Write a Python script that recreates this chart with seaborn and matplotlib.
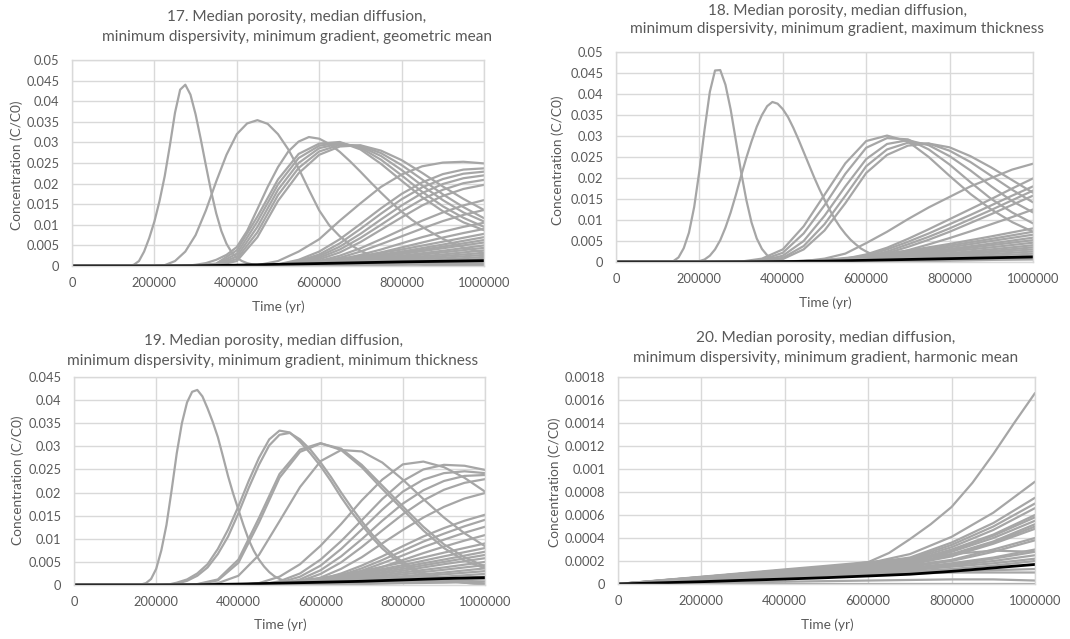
import pandas as pd
import matplotlib.pyplot as plt
import seaborn as sns

# time grids (yr)
t_narrow = list(range(125000, 700001, 12500))  # 47 points, for the sharp early peaks
t_fine = list(range(0, 1000001, 25000))        # 41 points
t_mid = list(range(0, 1000001, 50000))         # 21 points
t_coarse = list(range(0, 1000001, 100000))     # 11 points

x_ticks = [0, 200000, 400000, 600000, 800000, 1000000]
x_tick_labels = ["0", "200000", "400000", "600000", "800000", "1000000"]

y_ticks_05 = [0, 0.005, 0.01, 0.015, 0.02, 0.025, 0.03, 0.035, 0.04, 0.045, 0.05]
y_labels_05 = ["0", "0.005", "0.01", "0.015", "0.02", "0.025", "0.03", "0.035", "0.04", "0.045", "0.05"]
y_ticks_045 = [0, 0.005, 0.01, 0.015, 0.02, 0.025, 0.03, 0.035, 0.04, 0.045]
y_labels_045 = ["0", "0.005", "0.01", "0.015", "0.02", "0.025", "0.03", "0.035", "0.04", "0.045"]
y_ticks_0018 = [0, 0.0002, 0.0004, 0.0006, 0.0008, 0.001, 0.0012, 0.0014, 0.0016, 0.0018]
y_labels_0018 = ["0", "0.0002", "0.0004", "0.0006", "0.0008", "0.001", "0.0012", "0.0014", "0.0016", "0.0018"]

titles = [
    ("17. Median porosity, median diffusion,",
     "minimum dispersivity, minimum gradient, geometric mean"),
    ("18. Median porosity, median diffusion,",
     "minimum dispersivity, minimum gradient, maximum thickness"),
    ("19. Median porosity, median diffusion,",
     "minimum dispersivity, minimum gradient, minimum thickness"),
    ("20. Median porosity, median diffusion,",
     "minimum dispersivity, minimum gradient, harmonic mean"),
]

# ---------------- panel 17 ----------------
p17_narrow = [
    [0, 0, 0.0003, 0.0012, 0.0035, 0.0068, 0.0108, 0.0158, 0.0218, 0.0292, 0.0372,
     0.0428, 0.044, 0.0416, 0.0368, 0.0308, 0.0244, 0.0182, 0.0128, 0.0085, 0.0054,
     0.0033, 0.002, 0.0012, 0.0007, 0.0004, 0.0002, 0.0001, 0, 0, 0, 0, 0, 0, 0, 0,
     0, 0, 0, 0, 0, 0, 0, 0, 0, 0, 0],
]
p17_fast = [
    [0, 0, 0, 0, 0, 0, 0, 0, 0, 0.0002, 0.0012, 0.0035, 0.0075, 0.0135, 0.0205, 0.027,
     0.032, 0.0346, 0.0354, 0.0345, 0.032, 0.0283, 0.0237, 0.0185, 0.0135, 0.0098,
     0.0072, 0.0052, 0.0037, 0.0026, 0.0018, 0.0012, 0.0008, 0.0005, 0.0003, 0.0002,
     0.0001, 0.0001, 0.0001, 0, 0],
    [0, 0, 0, 0, 0, 0, 0, 0, 0, 0, 0, 0, 0.0003, 0.0007, 0.0015, 0.0027, 0.0046,
     0.0085, 0.0138, 0.0192, 0.024, 0.0278, 0.0302, 0.0313, 0.0309, 0.0296, 0.0277,
     0.0254, 0.0229, 0.0203, 0.0178, 0.0154, 0.0132, 0.0112, 0.0095, 0.008, 0.0066,
     0.0055, 0.0045, 0.0038, 0.0032],
]
p17_mid = [
    [0, 0, 0, 0, 0, 0, 0.0001, 0.0006, 0.0038, 0.012, 0.021, 0.0272, 0.0297, 0.0301,
     0.0283, 0.0248, 0.0207, 0.0167, 0.0133, 0.0106, 0.0087],
    [0, 0, 0, 0, 0, 0, 0, 0.0004, 0.003, 0.0108, 0.0198, 0.0262, 0.0292, 0.0299,
     0.0287, 0.0258, 0.022, 0.018, 0.0145, 0.0117, 0.0095],
    [0, 0, 0, 0, 0, 0, 0, 0.0003, 0.0023, 0.0095, 0.0185, 0.025, 0.0286, 0.0297,
     0.029, 0.0267, 0.0233, 0.0195, 0.016, 0.013, 0.0108],
    [0, 0, 0, 0, 0, 0, 0, 0.0002, 0.0017, 0.0082, 0.0172, 0.0238, 0.0278, 0.0294,
     0.0292, 0.0274, 0.0245, 0.021, 0.0174, 0.0143, 0.0116],
    [0, 0, 0, 0, 0, 0, 0, 0.0001, 0.0012, 0.007, 0.0158, 0.0225, 0.027, 0.029,
     0.0293, 0.028, 0.0257, 0.0226, 0.0193, 0.0163, 0.0136],
    [0, 0, 0, 0, 0, 0, 0, 0, 0, 0.0002, 0.0012, 0.0035, 0.0065, 0.011, 0.0152,
     0.0192, 0.0222, 0.0242, 0.0251, 0.0253, 0.0249],
    [0, 0, 0, 0, 0, 0, 0, 0, 0, 0, 0.0004, 0.0015, 0.0035, 0.0065, 0.0102, 0.014,
     0.0175, 0.0203, 0.0223, 0.0234, 0.0237],
    [0, 0, 0, 0, 0, 0, 0, 0, 0, 0, 0.0003, 0.0012, 0.0028, 0.0055, 0.009, 0.0127,
     0.0162, 0.0191, 0.0211, 0.0224, 0.0229],
    [0, 0, 0, 0, 0, 0, 0, 0, 0, 0, 0.0002, 0.001, 0.0024, 0.0047, 0.0078, 0.0113,
     0.0147, 0.0177, 0.0199, 0.0213, 0.022],
    [0, 0, 0, 0, 0, 0, 0, 0, 0, 0, 0.0001, 0.0008, 0.002, 0.004, 0.0068, 0.01,
     0.0133, 0.0162, 0.0185, 0.0201, 0.0209],
    [0, 0, 0, 0, 0, 0, 0, 0, 0, 0, 0.0001, 0.0006, 0.0016, 0.0033, 0.0058, 0.0088,
     0.0118, 0.0147, 0.017, 0.0187, 0.0197],
    [0, 0, 0, 0, 0, 0, 0, 0, 0, 0, 0, 0.0004, 0.0012, 0.0025, 0.0043, 0.0065,
     0.0088, 0.011, 0.013, 0.0147, 0.016],
    [0, 0, 0, 0, 0, 0, 0, 0, 0, 0, 0, 0.0003, 0.001, 0.002, 0.0035, 0.0053, 0.0072,
     0.0091, 0.0109, 0.0124, 0.0136],
    [0, 0, 0, 0, 0, 0, 0, 0, 0, 0, 0, 0.0002, 0.0008, 0.0016, 0.0027, 0.004, 0.0055,
     0.007, 0.0083, 0.0095, 0.0105],
    [0, 0, 0, 0, 0, 0, 0, 0, 0, 0, 0, 0.0002, 0.0007, 0.0013, 0.0022, 0.0033, 0.0045,
     0.0057, 0.0069, 0.008, 0.009],
]
p17_slow = [
    [0, 0, 0, 0, 0.0001, 0.0004, 0.0011, 0.0024, 0.004, 0.0059, 0.0078],
    [0, 0, 0, 0, 0.0001, 0.0003, 0.001, 0.0021, 0.0035, 0.0052, 0.007],
    [0, 0, 0, 0, 0.0001, 0.0003, 0.0009, 0.0019, 0.0032, 0.0047, 0.0063],
    [0, 0, 0, 0, 0.0001, 0.0003, 0.0008, 0.0017, 0.0029, 0.0043, 0.0057],
    [0, 0, 0, 0, 0.0001, 0.0002, 0.0007, 0.0015, 0.0025, 0.0037, 0.005],
    [0, 0, 0, 0, 0, 0.0002, 0.0006, 0.0013, 0.0022, 0.0033, 0.0044],
    [0, 0, 0, 0, 0, 0.0002, 0.0005, 0.0011, 0.0019, 0.0028, 0.0038],
    [0, 0, 0, 0, 0, 0.0002, 0.0005, 0.001, 0.0016, 0.0024, 0.0032],
    [0, 0, 0, 0, 0, 0.0001, 0.0004, 0.0008, 0.0014, 0.002, 0.0027],
    [0, 0, 0, 0, 0, 0.0001, 0.0003, 0.0007, 0.0011, 0.0016, 0.0022],
    [0, 0, 0, 0, 0, 0.0001, 0.0003, 0.0005, 0.0009, 0.0013, 0.0017],
    [0, 0, 0, 0, 0, 0.0001, 0.0002, 0.0004, 0.0006, 0.0009, 0.0012],
    [0, 0, 0, 0, 0, 0, 0.0001, 0.0002, 0.0004, 0.0006, 0.0008],
    [0, 0, 0, 0, 0, 0, 0.0001, 0.0002, 0.0003, 0.0004, 0.0005],
]
p17_mean = [0, 0, 0, 0.00005, 0.0002, 0.0004, 0.0006, 0.0008, 0.001, 0.00115, 0.0013]

# ---------------- panel 18 ----------------
p18_narrow = [
    [0, 0.0002, 0.0011, 0.0033, 0.007, 0.0131, 0.0217, 0.0316, 0.0405, 0.0456, 0.0457,
     0.0422, 0.0363, 0.0289, 0.0214, 0.0148, 0.0094, 0.0056, 0.0031, 0.0016, 0.0008,
     0.0004, 0.0002, 0.0001, 0, 0, 0, 0, 0, 0, 0, 0, 0, 0, 0, 0, 0, 0, 0, 0, 0, 0, 0,
     0, 0, 0, 0],
    [0, 0, 0, 0, 0, 0, 0.0002, 0.0006, 0.0015, 0.003, 0.0052, 0.0082, 0.0118, 0.016,
     0.0205, 0.0248, 0.0287, 0.0322, 0.035, 0.0371, 0.0381, 0.0377, 0.0364, 0.0345,
     0.032, 0.0292, 0.0262, 0.0232, 0.0202, 0.0174, 0.0148, 0.0124, 0.0102, 0.0083,
     0.0067, 0.0053, 0.0042, 0.0032, 0.0025, 0.0019, 0.0014, 0.001, 0.0007, 0.0005,
     0.0003, 0.0002, 0.0001],
]
p18_mid = [
    [0, 0, 0, 0, 0, 0, 0.0001, 0.0008, 0.003, 0.0085, 0.016, 0.0235, 0.0288, 0.0301,
     0.0287, 0.025, 0.0205, 0.0162, 0.0125, 0.0095, 0.0072],
    [0, 0, 0, 0, 0, 0, 0, 0.0005, 0.0022, 0.0068, 0.0135, 0.021, 0.0272, 0.0295,
     0.0292, 0.0268, 0.0232, 0.019, 0.015, 0.0118, 0.0092],
    [0, 0, 0, 0, 0, 0, 0, 0.0003, 0.0015, 0.005, 0.011, 0.018, 0.0245, 0.0281, 0.029,
     0.0278, 0.0252, 0.0218, 0.018, 0.0145, 0.0118],
    [0, 0, 0, 0, 0, 0, 0, 0.0002, 0.001, 0.0038, 0.009, 0.0158, 0.0228, 0.0268,
     0.0284, 0.0282, 0.0265, 0.0238, 0.0205, 0.0172, 0.0142],
    [0, 0, 0, 0, 0, 0, 0, 0.0001, 0.0007, 0.003, 0.0075, 0.014, 0.0212, 0.0255,
     0.0277, 0.0282, 0.0273, 0.0252, 0.0225, 0.0195, 0.0165],
    [0, 0, 0, 0, 0, 0, 0, 0, 0, 0.0002, 0.0008, 0.002, 0.0045, 0.0072, 0.0102, 0.013,
     0.0155, 0.018, 0.020, 0.022, 0.0234],
    [0, 0, 0, 0, 0, 0, 0, 0, 0, 0, 0, 0.0008, 0.0018, 0.0034, 0.0055, 0.0078, 0.0102,
     0.0126, 0.015, 0.0175, 0.0199],
    [0, 0, 0, 0, 0, 0, 0, 0, 0, 0, 0, 0.0006, 0.0015, 0.003, 0.0048, 0.0068, 0.009,
     0.0112, 0.0135, 0.0158, 0.018],
    [0, 0, 0, 0, 0, 0, 0, 0, 0, 0, 0, 0.0004, 0.0012, 0.0025, 0.0042, 0.006, 0.008,
     0.0102, 0.0124, 0.0147, 0.017],
    [0, 0, 0, 0, 0, 0, 0, 0, 0, 0, 0, 0.0003, 0.001, 0.0021, 0.0036, 0.0053, 0.0072,
     0.0093, 0.0114, 0.0136, 0.0158],
    [0, 0, 0, 0, 0, 0, 0, 0, 0, 0, 0, 0.0002, 0.0008, 0.0017, 0.0028, 0.0042, 0.0057,
     0.0073, 0.009, 0.0107, 0.0125],
]
p18_slow = [
    [0, 0, 0, 0, 0.0001, 0.0005, 0.0014, 0.0027, 0.0043, 0.0061, 0.008],
    [0, 0, 0, 0, 0.0001, 0.0004, 0.0012, 0.0024, 0.0039, 0.0055, 0.0072],
    [0, 0, 0, 0, 0.0001, 0.0004, 0.0011, 0.0022, 0.0035, 0.005, 0.0065],
    [0, 0, 0, 0, 0.0001, 0.0003, 0.001, 0.0019, 0.0031, 0.0044, 0.0058],
    [0, 0, 0, 0, 0.0001, 0.0003, 0.0009, 0.0017, 0.0028, 0.004, 0.0052],
    [0, 0, 0, 0, 0, 0.0003, 0.0008, 0.0015, 0.0025, 0.0035, 0.0046],
    [0, 0, 0, 0, 0, 0.0002, 0.0007, 0.0013, 0.0021, 0.003, 0.004],
    [0, 0, 0, 0, 0, 0.0002, 0.0006, 0.0011, 0.0018, 0.0026, 0.0035],
    [0, 0, 0, 0, 0, 0.0002, 0.0005, 0.001, 0.0016, 0.0023, 0.003],
    [0, 0, 0, 0, 0, 0.0001, 0.0004, 0.0008, 0.0013, 0.0019, 0.0025],
    [0, 0, 0, 0, 0, 0.0001, 0.0003, 0.0006, 0.001, 0.0015, 0.002],
    [0, 0, 0, 0, 0, 0.0001, 0.0002, 0.0005, 0.0008, 0.0011, 0.0015],
    [0, 0, 0, 0, 0, 0, 0.0002, 0.0003, 0.0005, 0.0008, 0.001],
    [0, 0, 0, 0, 0, 0, 0.0001, 0.0002, 0.0003, 0.0005, 0.0006],
]
p18_mean = [0, 0, 0, 0.00003, 0.0001, 0.0002, 0.0004, 0.0006, 0.0008, 0.001, 0.0012]

# ---------------- panel 19 ----------------
p19_narrow = [
    [0, 0, 0, 0.0001, 0.0004, 0.0013, 0.0035, 0.0075, 0.013, 0.0205, 0.0285, 0.035,
     0.0395, 0.0418, 0.0422, 0.0408, 0.0382, 0.0353, 0.032, 0.0278, 0.0235, 0.0197,
     0.0163, 0.0129, 0.0098, 0.0074, 0.0055, 0.004, 0.0028, 0.0019, 0.0013, 0.0009,
     0.0006, 0.0004, 0.0003, 0.0002, 0.0001, 0, 0, 0, 0, 0, 0, 0, 0, 0, 0],
]
p19_fast = [
    [0, 0, 0, 0, 0, 0, 0, 0, 0, 0, 0.0005, 0.0012, 0.0025, 0.0045, 0.0078, 0.012, 0.017,
     0.0225, 0.0275, 0.0315, 0.0334, 0.033, 0.031, 0.0285, 0.0257, 0.0225, 0.019,
     0.0158, 0.013, 0.0103, 0.0079, 0.006, 0.0045, 0.0032, 0.0022, 0.0015, 0.001,
     0.0007, 0.0005, 0.0003, 0.0002],
    [0, 0, 0, 0, 0, 0, 0, 0, 0, 0, 0.0003, 0.0009, 0.002, 0.0038, 0.0067, 0.0105,
     0.0155, 0.021, 0.026, 0.0302, 0.0325, 0.0329, 0.0315, 0.0293, 0.0265, 0.0234,
     0.02, 0.0168, 0.0138, 0.011, 0.0086, 0.0066, 0.005, 0.0036, 0.0025, 0.0017,
     0.0012, 0.0008, 0.0005, 0.0003, 0.0002],
]
p19_mid = [
    [0, 0, 0, 0, 0, 0, 0.0002, 0.0012, 0.0055, 0.0145, 0.024, 0.0293, 0.0307, 0.0292,
     0.0255, 0.0208, 0.0163, 0.0118, 0.008, 0.0053, 0.0036],
    [0, 0, 0, 0, 0, 0, 0.0001, 0.001, 0.0048, 0.0135, 0.0232, 0.0288, 0.0306, 0.0295,
     0.026, 0.0215, 0.017, 0.0126, 0.0088, 0.006, 0.004],
    [0, 0, 0, 0, 0, 0, 0, 0.0004, 0.002, 0.0065, 0.0138, 0.0212, 0.0268, 0.0292,
     0.0289, 0.0265, 0.0228, 0.0186, 0.0146, 0.0112, 0.0084],
    [0, 0, 0, 0, 0, 0, 0, 0, 0, 0.0004, 0.0018, 0.0045, 0.0085, 0.0132, 0.0183,
     0.0228, 0.0261, 0.0267, 0.0255, 0.0232, 0.0202],
    [0, 0, 0, 0, 0, 0, 0, 0, 0, 0, 0.0008, 0.0025, 0.0055, 0.0095, 0.014, 0.0186,
     0.0225, 0.025, 0.026, 0.0258, 0.0249],
    [0, 0, 0, 0, 0, 0, 0, 0, 0, 0, 0.0005, 0.0018, 0.0042, 0.0078, 0.012, 0.0163,
     0.0202, 0.0228, 0.0242, 0.0246, 0.0242],
    [0, 0, 0, 0, 0, 0, 0, 0, 0, 0, 0, 0.0012, 0.0032, 0.0062, 0.0099, 0.0139, 0.0176,
     0.0205, 0.0225, 0.0236, 0.0238],
    [0, 0, 0, 0, 0, 0, 0, 0, 0, 0, 0, 0.0008, 0.0024, 0.0049, 0.0082, 0.0118, 0.0153,
     0.0183, 0.0206, 0.0221, 0.0229],
    [0, 0, 0, 0, 0, 0, 0, 0, 0, 0, 0, 0.0005, 0.0016, 0.0035, 0.006, 0.009, 0.0119,
     0.0146, 0.0169, 0.0187, 0.0199],
    [0, 0, 0, 0, 0, 0, 0, 0, 0, 0, 0, 0.0004, 0.0012, 0.0025, 0.0042, 0.0062, 0.0084,
     0.0105, 0.0123, 0.0139, 0.0152],
    [0, 0, 0, 0, 0, 0, 0, 0, 0, 0, 0, 0.0003, 0.001, 0.0021, 0.0036, 0.0054, 0.0074,
     0.0094, 0.0111, 0.0127, 0.0141],
    [0, 0, 0, 0, 0, 0, 0, 0, 0, 0, 0, 0.0003, 0.0009, 0.0018, 0.0031, 0.0047, 0.0064,
     0.0082, 0.0098, 0.0113, 0.0126],
    [0, 0, 0, 0, 0, 0, 0, 0, 0, 0, 0, 0.0002, 0.0007, 0.0015, 0.0026, 0.0039, 0.0054,
     0.0069, 0.0083, 0.0096, 0.0108],
]
p19_slow = [
    [0, 0, 0, 0, 0.0001, 0.0005, 0.0015, 0.003, 0.0049, 0.007, 0.009],
    [0, 0, 0, 0, 0.0001, 0.0004, 0.0013, 0.0026, 0.0043, 0.0062, 0.008],
    [0, 0, 0, 0, 0.0001, 0.0004, 0.0012, 0.0024, 0.0039, 0.0055, 0.0072],
    [0, 0, 0, 0, 0.0001, 0.0003, 0.001, 0.0021, 0.0035, 0.005, 0.0065],
    [0, 0, 0, 0, 0.0001, 0.0003, 0.0009, 0.0019, 0.0031, 0.0045, 0.0058],
    [0, 0, 0, 0, 0, 0.0003, 0.0008, 0.0016, 0.0027, 0.0038, 0.005],
    [0, 0, 0, 0, 0, 0.0002, 0.0007, 0.0014, 0.0023, 0.0033, 0.0043],
    [0, 0, 0, 0, 0, 0.0002, 0.0006, 0.0012, 0.0019, 0.0027, 0.0036],
    [0, 0, 0, 0, 0, 0.0002, 0.0005, 0.001, 0.0016, 0.0023, 0.003],
    [0, 0, 0, 0, 0, 0.0001, 0.0004, 0.0008, 0.0013, 0.0018, 0.0024],
    [0, 0, 0, 0, 0, 0.0001, 0.0003, 0.0006, 0.001, 0.0014, 0.0018],
    [0, 0, 0, 0, 0, 0.0001, 0.0002, 0.0004, 0.0007, 0.0009, 0.0012],
    [0, 0, 0, 0, 0, 0, 0.0001, 0.0002, 0.0004, 0.0005, 0.0007],
]
p19_mean = [0, 0, 0, 0.00005, 0.0002, 0.0004, 0.0006, 0.0008, 0.0011, 0.0014, 0.0016]

# ---------------- panel 20 ----------------
p20_mid = [
    [0, 0.000015, 0.00003, 0.000045, 0.00006, 0.000075, 0.00009, 0.000105, 0.00012,
     0.000135, 0.00015, 0.000165, 0.00019, 0.00027, 0.00039, 0.00052, 0.00067,
     0.00088, 0.00113, 0.0014, 0.00166],
]
p20_slow = [
    [0, 0.00003, 0.00006, 0.00009, 0.00012, 0.00015, 0.00018, 0.00026, 0.00041, 0.00062, 0.00089],
    [0, 0.00003, 0.00006, 0.00009, 0.00012, 0.00015, 0.00018, 0.00023, 0.00036, 0.00053, 0.00075],
    [0, 0.000028, 0.000055, 0.000083, 0.00011, 0.00014, 0.000165, 0.00022, 0.00034, 0.0005, 0.0007],
    [0, 0.000028, 0.000055, 0.000083, 0.00011, 0.00014, 0.000165, 0.00021, 0.00032, 0.00047, 0.00066],
    [0, 0.000027, 0.000053, 0.00008, 0.000107, 0.000133, 0.00016, 0.0002, 0.0003, 0.00043, 0.0006],
    [0, 0.000025, 0.00005, 0.000075, 0.0001, 0.000125, 0.00015, 0.00019, 0.00029, 0.00042, 0.00058],
    [0, 0.000025, 0.00005, 0.000075, 0.0001, 0.000125, 0.00015, 0.00019, 0.00028, 0.0004, 0.00055],
    [0, 0.000023, 0.000047, 0.00007, 0.000093, 0.000117, 0.00014, 0.00018, 0.00026, 0.00037, 0.00052],
    [0, 0.000023, 0.000047, 0.00007, 0.000093, 0.000117, 0.00014, 0.00017, 0.00025, 0.00036, 0.0005],
    [0, 0.000022, 0.000043, 0.000065, 0.000087, 0.000108, 0.00013, 0.00017, 0.00024, 0.00035, 0.00048],
    [0, 0.000022, 0.000043, 0.000065, 0.000087, 0.000108, 0.00013, 0.00016, 0.00021, 0.0003, 0.0004],
    [0, 0.00002, 0.00004, 0.00006, 0.00008, 0.0001, 0.00012, 0.00015, 0.0002, 0.00028, 0.00038],
    [0, 0.00002, 0.00004, 0.00006, 0.00008, 0.0001, 0.00012, 0.00014, 0.00018, 0.00023, 0.0003],
    [0, 0.000018, 0.000037, 0.000055, 0.000073, 0.000092, 0.00011, 0.00013, 0.00017, 0.00022, 0.00028],
    [0, 0.000018, 0.000037, 0.000055, 0.000073, 0.000092, 0.00011, 0.00013, 0.00016, 0.0002, 0.00025],
    [0, 0.000017, 0.000033, 0.00005, 0.000067, 0.000083, 0.0001, 0.00012, 0.00015, 0.00018, 0.00022],
    [0, 0.000015, 0.00003, 0.000045, 0.00006, 0.000075, 0.00009, 0.00011, 0.00013, 0.00016, 0.0002],
    [0, 0.000015, 0.00003, 0.000045, 0.00006, 0.000075, 0.00009, 0.0001, 0.00011, 0.00012, 0.00013],
    [0, 0.000013, 0.000027, 0.00004, 0.000053, 0.000067, 0.00008, 0.00009, 0.0001, 0.0001, 0.0001],
    [0, 0.000032, 0.000063, 0.000095, 0.000127, 0.000158, 0.00019, 0.00022, 0.00026, 0.00029, 0.00028],
    [0, 0.000005, 0.00001, 0.000015, 0.00002, 0.000025, 0.00003, 0.000035, 0.00004, 0.00004, 0.00003],
    [0, 0, 0, 0, 0, 0, 0, 0, 0, 0, 0],
]
p20_mean = [0, 0.00001, 0.00002, 0.000032, 0.000043, 0.000055, 0.00007, 0.000085, 0.00011, 0.00014, 0.00017]

GREY = "#a6a6a6"
TEXT = "#595959"
GRID = "#d9d9d9"
W, H = 1070, 639


def runs_frame(groups):
    # stack every curve into one long table, one id per curve
    frames = []
    run = 0
    for times, curves in groups:
        for ys in curves:
            frames.append(pd.DataFrame({"time": times, "conc": ys, "run": run}))
            run += 1
    return pd.concat(frames, ignore_index=True)


sns.set_style("white")
plt.rcParams["font.family"] = ["Lato", "DejaVu Sans"]

fig = plt.figure(figsize=(W / 100, H / 100), dpi=100)

panels = [
    # (left, top, right, bottom) in px, curve groups, mean curve, yticks, ylabels, ymax
    ((72, 60, 484, 266),
     [(t_narrow, p17_narrow), (t_fine, p17_fast), (t_mid, p17_mid), (t_coarse, p17_slow)],
     p17_mean, y_ticks_05, y_labels_05, 0.05),
    ((616, 52, 1033, 262),
     [(t_narrow, p18_narrow), (t_mid, p18_mid), (t_coarse, p18_slow)],
     p18_mean, y_ticks_05, y_labels_05, 0.05),
    ((74, 377, 485, 585),
     [(t_narrow, p19_narrow), (t_fine, p19_fast), (t_mid, p19_mid), (t_coarse, p19_slow)],
     p19_mean, y_ticks_045, y_labels_045, 0.045),
    ((618, 377, 1035, 584),
     [(t_mid, p20_mid), (t_coarse, p20_slow)],
     p20_mean, y_ticks_0018, y_labels_0018, 0.0018),
]
title_pos = [(297, 17, 37), (837, 11, 29), (273, 341, 361), (826, 338, 358)]
ylabel_pos = [(17, 165), (558, 160), (18, 480), (555, 482)]
xlabel_pos = [(278, 307), (825, 303), (280, 625), (827, 625)]

for k, (box, groups, mean, yt, yl, ymax) in enumerate(panels):
    l, t, r, b = box
    ax = fig.add_axes([l / W, 1 - b / H, (r - l) / W, (b - t) / H])
    df = runs_frame(groups)
    sns.lineplot(data=df, x="time", y="conc", units="run", estimator=None,
                 color=GREY, linewidth=1.6, sort=False, ax=ax)
    sns.lineplot(x=t_coarse, y=mean, color="black", linewidth=2.0, ax=ax)

    ax.set_xlim(0, 1000000)
    ax.set_ylim(0, ymax)
    ax.set_xticks(x_ticks)
    ax.set_xticklabels(x_tick_labels)
    ax.set_yticks(yt)
    ax.set_yticklabels(yl)
    ax.tick_params(colors=TEXT, labelsize=9.3, length=0)
    ax.tick_params(axis="x", pad=8)
    ax.tick_params(axis="y", pad=9)
    ax.grid(True, color=GRID, linewidth=1)
    ax.set_axisbelow(True)
    for s in ax.spines.values():
        s.set_color(GRID)
        s.set_linewidth(1)
    ax.set_xlabel("")
    ax.set_ylabel("")

    cx, y1, y2 = title_pos[k]
    fig.text(cx / W, 1 - y1 / H, titles[k][0], ha="center", va="center",
             fontsize=11.1, color=TEXT)
    fig.text(cx / W, 1 - y2 / H, titles[k][1], ha="center", va="center",
             fontsize=11.1, color=TEXT)
    yx, yy = ylabel_pos[k]
    fig.text(yx / W, 1 - yy / H, "Concentration (C/C0)", rotation=90,
             ha="center", va="center", fontsize=9.8, color=TEXT)
    xx, xy = xlabel_pos[k]
    fig.text(xx / W, 1 - xy / H, "Time (yr)", ha="center", va="center",
             fontsize=9.8, color=TEXT)

fig.savefig("out.png", dpi=100, facecolor="white")
